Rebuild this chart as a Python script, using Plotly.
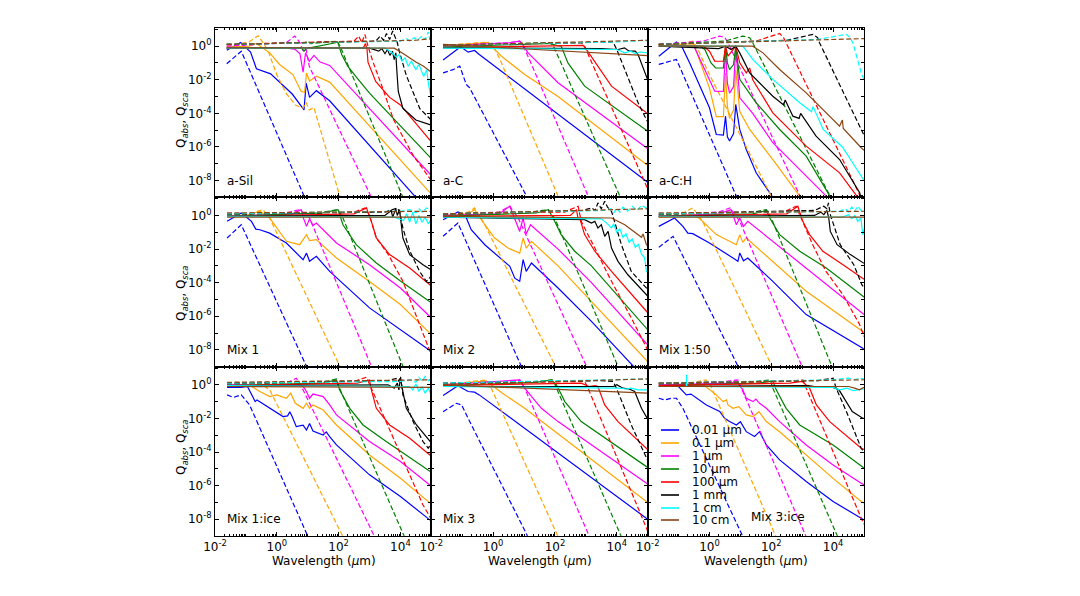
import plotly.graph_objects as go
from plotly.subplots import make_subplots

# ---------------- data (log10 wavelength [um], log10 Q) ----------------
SIZES = ["0.01 μm", "0.1 μm", "1 μm", "10 μm", "100 μm", "1 mm", "1 cm", "10 cm"]
COLORS = ["#0000ff", "#ffa500", "#ff00ff", "#008000", "#ff0000", "#000000", "#00ffff", "#8b4513"]
PANEL_NAMES = ["a-Sil", "a-C", "a-C:H", "Mix 1", "Mix 2", "Mix 1:50", "Mix 1:ice", "Mix 3", "Mix 3:ice"]
X_LABEL_EXP = [-2, 0, 2, 4]
Y_LABEL_EXP = [-8, -6, -4, -2, 0]

ASIL_ABS = [
    [[-1.62,-0.25],[-1.17,0.22],[-0.85,-0.35],[-0.66,-1.35],[-0.2,-1.65],[0.5,-2.85],[0.88,-3.8],[0.95,-2.2],[1.06,-3.05],[1.28,-2.65],[1.71,-3.25],[4.5,-9.0]],
    [[-1.62,-0.05],[-0.9,0.0],[-0.66,0.16],[-0.23,-0.4],[0.09,-1.09],[0.52,-1.69],[0.79,-2.7],[0.9,-2.75],[0.96,-1.6],[1.06,-2.08],[1.28,-1.79],[1.71,-2.14],[4.95,-8.7],[5.0,-8.8]],
    [[-1.62,-0.1],[0.3,-0.1],[0.6,-0.2],[0.75,-0.45],[0.85,-1.55],[0.93,-0.4],[1.05,-0.9],[1.2,-0.55],[1.4,-0.95],[1.71,-1.15],[5.0,-7.7]],
    [[-1.62,-0.12],[0.8,-0.1],[0.88,-0.3],[0.95,-0.15],[1.9,0.2],[1.97,0.25],[2.1,-0.5],[2.3,-1.2],[2.6,-1.9],[3.0,-2.8],[5.0,-6.7]],
    [[-1.62,-0.12],[2.8,-0.1],[2.87,0.15],[2.92,-0.2],[2.95,-0.95],[3.2,-2.1],[3.65,-3.05],[4.0,-3.5],[5.0,-5.7]],
    [[-1.62,-0.12],[3.0,-0.12],[3.3,-0.3],[3.4,-0.15],[3.5,-0.45],[3.58,-0.2],[3.66,-0.55],[3.74,-0.3],[3.8,-0.8],[3.85,-0.4],[3.88,-1.35],[3.93,-2.7],[4.08,-3.7],[4.5,-4.4],[5.0,-4.7]],
    [[-1.62,-0.12],[3.5,-0.12],[3.7,-0.35],[3.87,-0.65],[3.95,-0.5],[4.05,-0.9],[4.15,-0.7],[4.25,-1.2],[4.35,-0.9],[4.5,-1.4],[4.6,-1.1],[4.75,-1.8],[4.85,-1.4],[4.92,-2.4],[5.0,-3.1]],
    [[-1.62,-0.1],[3.8,-0.12],[4.1,-0.45],[4.5,-0.95],[4.75,-1.2],[4.85,-1.35],[5.0,-1.55]],
]
ASIL_SCA = [
    [[-1.62,-1.05],[-1.15,-0.3],[0.9,-9.0]],
    [[-1.62,0.0],[-0.9,0.25],[-0.6,0.62],[-0.3,-0.2],[0.0,-1.7],[0.3,-2.8],[0.6,-3.5],[0.85,-3.7],[0.95,-3.35],[1.05,-3.8],[1.2,-3.65],[1.35,-4.6],[2.05,-9.0]],
    [[-1.62,0.0],[0.3,0.2],[0.58,0.6],[0.75,0.2],[0.85,-0.3],[0.95,-0.2],[1.05,-1.2],[3.06,-9.0]],
    [[-1.62,0.1],[0.9,0.2],[1.0,0.3],[1.1,0.15],[1.95,0.3],[2.05,0.0],[4.08,-9.0]],
    [[-1.62,0.1],[2.5,0.3],[2.65,0.6],[2.75,0.2],[2.85,0.7],[2.95,0.0],[3.12,-0.98],[3.44,-2.57],[3.77,-4.35],[4.41,-6.5],[5.0,-8.0]],
    [[-1.62,0.1],[3.2,0.3],[3.35,0.6],[3.45,0.35],[3.55,0.75],[3.65,0.4],[3.75,0.9],[3.85,0.5],[3.9,0.2],[3.97,-0.36],[4.19,-1.74],[4.41,-2.74],[4.63,-3.73],[5.0,-4.4]],
    [[-1.62,0.1],[4.0,0.3],[4.2,0.45],[4.3,0.3],[4.45,0.5],[4.55,0.35],[4.7,0.6],[4.8,0.4],[4.9,0.85],[4.95,0.4],[5.0,0.7]],
    [[-1.62,0.1],[4.0,0.3],[4.5,0.35],[5.0,0.45]],
]

AC_ABS = [
    [[-1.62,-0.83],[-1.05,-0.04],[-0.81,-0.36],[-0.6,-0.26],[-0.45,-0.5],[4.96,-8.04],[5.0,-8.1]],
    [[-1.62,0.0],[-0.5,0.15],[-0.16,0.22],[0.0,-0.1],[0.27,-0.6],[1.02,-1.69],[2.1,-3.0],[4.96,-7.04],[5.0,-7.1]],
    [[-1.62,0.0],[0.5,0.2],[0.86,0.3],[0.95,0.1],[1.13,-0.4],[2.1,-2.18],[4.96,-6.05],[5.0,-6.1]],
    [[-1.62,-0.05],[1.0,0.1],[1.83,0.16],[2.05,0.05],[2.2,0.0],[2.42,-1.0],[2.96,-2.38],[4.96,-5.0],[5.0,-5.05]],
    [[-1.62,-0.08],[2.5,0.0],[2.91,0.04],[3.0,-0.15],[3.39,-1.19],[3.83,-2.38],[4.96,-3.97],[5.0,-4.0]],
    [[-1.62,-0.1],[3.5,-0.15],[4.04,-0.2],[4.25,-0.1],[4.4,-0.3],[4.6,-0.3],[4.69,-0.5],[4.96,-1.88],[5.0,-2.0]],
    [[-1.62,-0.12],[4.0,-0.2],[4.26,-0.4],[4.45,-0.3],[4.6,-0.45],[4.75,-0.35],[5.0,-0.4]],
    [[-1.62,0.1],[5.0,-0.56]],
]
AC_SCA = [
    [[-1.62,-1.59],[-1.3,-1.4],[-1.08,-1.19],[-0.87,-2.28],[-0.76,-2.48],[1.07,-8.93],[1.1,-9.0]],
    [[-1.62,0.04],[-0.5,0.2],[-0.2,0.24],[0.0,0.0],[0.2,-0.7],[2.1,-8.93],[2.12,-9.0]],
    [[-1.62,0.04],[0.5,0.2],[0.86,0.3],[0.97,0.0],[1.15,-0.7],[3.07,-8.93],[3.09,-9.0]],
    [[-1.62,0.04],[1.5,0.2],[1.83,0.2],[1.94,0.04],[2.1,-0.6],[4.1,-8.93],[4.12,-9.0]],
    [[-1.62,0.04],[2.5,0.15],[2.85,0.2],[2.96,0.0],[3.1,-0.6],[4.96,-8.33],[5.0,-8.5]],
    [[-1.62,0.05],[3.5,0.2],[3.88,0.25],[4.0,-0.2],[4.26,-1.39],[4.69,-3.37],[4.96,-4.37],[5.0,-4.5]],
    [[-1.62,0.05],[4.0,0.25],[4.96,0.35],[5.0,0.25]],
    [[-1.62,0.05],[5.0,0.35]],
]

ACH_ABS = [
    [[-1.64,-0.6],[-1.07,0.24],[-0.9,0.0],[-0.64,-1.0],[0.0,-3.67],[0.22,-5.26],[0.45,-5.3],[0.52,-4.17],[0.58,-5.4],[0.65,-5.65],[0.78,-5.2],[0.85,-3.47],[0.98,-4.96],[1.19,-6.15],[1.51,-7.54],[2.0,-8.93],[2.05,-9.0]],
    [[-1.64,0.0],[-0.6,0.15],[-0.5,0.1],[-0.37,-0.6],[0.0,-2.5],[0.22,-4.2],[0.45,-4.2],[0.52,-1.6],[0.58,-3.6],[0.65,-4.3],[0.78,-3.8],[0.85,-1.4],[0.98,-3.9],[1.3,-4.96],[2.05,-6.75],[2.92,-8.93],[2.96,-9.0]],
    [[-1.64,0.0],[-0.6,0.0],[-0.48,-0.1],[-0.1,-1.59],[0.17,-2.68],[0.45,-2.7],[0.52,-0.2],[0.58,-2.2],[0.65,-2.8],[0.78,-2.4],[0.85,-0.1],[0.98,-3.08],[1.4,-4.0],[2.05,-5.75],[3.78,-8.93],[3.82,-9.0]],
    [[-1.64,0.0],[-0.3,0.0],[-0.15,-0.2],[0.05,-1.0],[0.2,-1.3],[0.45,-1.3],[0.52,0.0],[0.58,-1.0],[0.65,-1.4],[0.78,-1.1],[0.85,0.0],[0.98,-1.98],[1.51,-3.37],[2.27,-4.96],[3.13,-6.55],[3.89,-8.93],[3.92,-9.0]],
    [[-1.64,0.0],[-0.2,0.0],[0.0,-0.3],[0.17,-0.89],[0.45,-0.9],[0.52,0.0],[0.6,-0.6],[0.85,0.0],[0.98,-0.99],[1.19,-1.59],[1.3,-1.3],[1.4,-2.0],[2.05,-3.97],[3.13,-5.95],[4.21,-7.54],[4.75,-8.93],[4.8,-9.0]],
    [[-1.64,0.0],[0.0,-0.1],[0.3,-0.15],[0.52,0.0],[0.7,-0.2],[0.85,0.0],[0.98,-0.4],[1.3,-1.59],[2.05,-2.98],[2.4,-3.5],[2.45,-3.2],[2.7,-4.17],[2.9,-4.3],[2.95,-4.0],[3.45,-5.36],[4.21,-6.75],[4.86,-8.73],[4.9,-9.0]],
    [[-1.64,0.0],[1.08,0.0],[1.4,-0.79],[2.05,-1.98],[2.92,-3.37],[3.3,-3.9],[3.35,-3.6],[3.68,-4.96],[4.3,-6.0],[4.91,-7.74],[5.0,-8.0]],
    [[-1.64,0.0],[1.4,0.0],[1.73,-0.4],[2.27,-1.39],[3.13,-2.78],[4.21,-4.76],[4.3,-4.4],[4.33,-4.9],[4.91,-6.05],[5.0,-6.2]],
]
ACH_SCA = [
    [[-1.64,-1.09],[-1.07,-0.79],[0.87,-8.93],[0.9,-9.1]],
    [[-1.64,0.1],[-0.8,0.2],[-0.54,0.3],[-0.37,-0.2],[0.0,-1.7],[2.0,-8.93],[2.02,-9.0]],
    [[-1.64,0.1],[-0.2,0.3],[0.33,0.6],[0.5,0.5],[0.6,0.2],[2.92,-8.93],[2.95,-9.0]],
    [[-1.64,0.1],[0.5,0.3],[1.08,0.6],[1.3,0.5],[1.4,0.2],[3.89,-8.93],[3.92,-9.0]],
    [[-1.64,0.1],[1.5,0.3],[2.27,0.75],[2.4,0.5],[2.48,0.2],[4.86,-8.93],[4.9,-9.0]],
    [[-1.64,0.1],[2.5,0.35],[3.35,0.7],[3.5,0.5],[3.56,0.2],[4.91,-4.96],[5.0,-5.3]],
    [[-1.64,0.1],[3.5,0.4],[4.43,0.7],[4.55,0.5],[4.64,0.2],[4.91,-1.59],[5.0,-2.0]],
    [[-1.64,0.1],[5.0,0.45]],
]

MIX1_ABS = [
    [[-1.61,-0.35],[-1.15,0.15],[-0.82,-0.35],[-0.68,-0.81],[-0.55,-0.85],[-0.23,-1.05],[0.31,-1.64],[0.85,-2.63],[0.96,-2.24],[1.06,-2.73],[1.28,-2.43],[1.71,-3.33],[3.0,-5.5],[4.95,-8.0],[5.0,-8.1]],
    [[-1.61,-0.05],[-0.9,0.05],[-0.55,0.25],[-0.23,-0.15],[0.31,-1.54],[0.74,-1.74],[0.96,-1.14],[1.06,-1.5],[1.28,-1.44],[1.93,-2.53],[3.0,-3.93],[4.0,-5.3],[4.95,-7.0],[5.0,-7.1]],
    [[-1.61,-0.05],[0.5,0.1],[0.79,0.35],[0.85,-0.1],[0.96,-0.65],[1.06,-0.2],[1.17,-0.6],[1.28,-0.45],[1.93,-1.64],[3.0,-2.93],[4.0,-4.32],[4.95,-6.0],[5.0,-6.1]],
    [[-1.61,-0.05],[1.5,0.15],[1.98,0.35],[2.14,-0.55],[2.57,-1.74],[3.22,-2.83],[4.0,-3.9],[4.95,-5.1],[5.0,-5.2]],
    [[-1.61,-0.05],[2.5,0.1],[2.9,0.45],[3.06,-0.35],[3.22,-1.34],[3.65,-2.33],[4.3,-3.13],[4.95,-4.12],[5.0,-4.2]],
    [[-1.61,-0.05],[3.5,0.0],[3.7,0.3],[3.75,-0.1],[3.85,0.4],[3.9,0.0],[3.97,0.35],[4.03,-0.55],[4.08,-1.34],[4.3,-2.33],[4.73,-2.93],[5.0,-3.25]],
    [[-1.61,-0.05],[3.8,-0.1],[4.1,-0.3],[4.2,0.1],[4.3,-0.4],[4.4,0.2],[4.5,-0.5],[4.6,0.0],[4.7,-0.4],[4.8,-0.1],[4.9,-0.5],[5.0,-0.2]],
    [[-1.61,-0.1],[5.0,-0.1]],
]
MIX1_SCA = [
    [[-1.61,-1.34],[-1.15,-0.55],[0.96,-8.98],[1.0,-9.1]],
    [[-1.61,0.0],[-0.8,0.15],[-0.45,0.35],[-0.23,-0.15],[2.04,-8.98],[2.07,-9.1]],
    [[-1.61,0.05],[0.3,0.15],[0.74,0.35],[0.9,0.1],[1.06,-0.15],[3.06,-8.98],[3.09,-9.1]],
    [[-1.61,0.05],[1.5,0.2],[1.98,0.35],[2.14,-0.15],[4.08,-8.98],[4.11,-9.1]],
    [[-1.61,0.1],[2.5,0.2],[2.85,0.45],[3.0,0.0],[3.22,-1.34],[3.6,-2.3],[4.08,-3.92],[4.73,-7.1],[4.95,-8.1],[5.0,-8.3]],
    [[-1.61,0.1],[3.5,0.2],[3.9,0.45],[3.98,0.2],[4.08,-0.75],[4.3,-2.1],[4.62,-3.33],[4.84,-3.93],[5.0,-3.6]],
    [[-1.61,0.1],[4.0,0.25],[4.3,0.35],[4.5,0.15],[4.6,0.4],[4.7,0.2],[4.85,0.45],[5.0,0.3]],
    [[-1.61,0.15],[5.0,0.25]],
]

MIX2_ABS = [
    [[-1.62,-0.25],[-1.14,0.21],[-0.9,0.0],[-0.71,-0.85],[-0.27,-1.74],[0.27,-2.63],[0.54,-3.03],[0.7,-3.73],[0.86,-3.92],[0.97,-2.63],[1.07,-3.33],[1.24,-2.83],[2.1,-4.32],[3.18,-6.3],[4.47,-8.88],[4.55,-9.0]],
    [[-1.62,0.0],[-0.8,0.1],[-0.6,0.35],[-0.27,-0.55],[0.05,-1.34],[0.48,-1.94],[0.86,-2.24],[0.97,-1.34],[1.07,-1.94],[1.24,-1.54],[2.1,-3.0],[3.18,-5.1],[4.96,-8.6],[5.0,-8.7]],
    [[-1.62,0.0],[0.2,0.1],[0.54,0.55],[0.7,-0.15],[0.86,-0.95],[0.97,-0.15],[1.07,-1.1],[1.21,-0.55],[2.1,-2.0],[3.18,-4.0],[4.96,-7.6],[5.0,-7.7]],
    [[-1.62,-0.05],[1.4,0.15],[1.78,0.35],[1.94,-0.15],[2.2,-1.14],[2.64,-2.13],[3.18,-3.0],[4.96,-6.7],[5.0,-6.8]],
    [[-1.62,-0.05],[2.5,0.0],[2.7,0.35],[2.75,-0.25],[2.8,-0.15],[2.96,-1.14],[3.29,-2.13],[3.83,-3.33],[4.96,-5.7],[5.0,-5.8]],
    [[-1.62,-0.1],[2.96,-0.25],[3.18,-0.45],[3.29,-0.35],[3.39,-0.75],[3.5,-0.55],[3.61,-1.24],[3.72,-0.95],[3.83,-1.94],[4.04,-2.73],[4.36,-3.53],[4.96,-4.71],[5.0,-4.8]],
    [[-1.62,-0.1],[3.5,-0.2],[3.7,-0.5],[3.83,-0.75],[3.9,-0.5],[4.0,-1.0],[4.1,-0.8],[4.2,-1.3],[4.3,-1.1],[4.4,-1.6],[4.5,-1.4],[4.6,-1.9],[4.7,-1.7],[4.8,-2.3],[4.9,-2.5],[4.96,-3.33],[5.0,-3.4]],
    [[-1.62,-0.05],[3.83,-0.15],[4.26,-0.55],[4.69,-1.14],[4.8,-1.3],[4.85,-1.1],[4.96,-1.74],[5.0,-1.8]],
]
MIX2_SCA = [
    [[-1.62,-1.24],[-1.14,-0.45],[0.91,-8.98],[0.95,-9.1]],
    [[-1.62,0.0],[-0.8,0.2],[-0.6,0.45],[-0.27,-0.55],[1.99,-8.88],[2.02,-9.0]],
    [[-1.62,0.05],[0.2,0.2],[0.54,0.55],[0.81,-0.15],[3.02,-8.98],[3.05,-9.1]],
    [[-1.62,0.05],[1.2,0.2],[1.78,0.35],[1.99,-0.15],[4.04,-8.98],[4.07,-9.1]],
    [[-1.62,0.1],[2.3,0.2],[2.75,0.55],[2.85,-0.35],[3.29,-1.94],[3.83,-3.92],[4.47,-6.1],[4.96,-7.9],[5.0,-8.0]],
    [[-1.62,0.1],[2.9,0.3],[3.18,0.45],[3.3,0.3],[3.39,0.75],[3.5,0.4],[3.61,0.85],[3.7,0.5],[3.83,0.25],[4.15,-1.74],[4.47,-3.33],[4.96,-4.3],[5.0,-4.4]],
    [[-1.62,0.1],[3.6,0.3],[3.8,0.4],[3.9,0.15],[4.0,0.45],[4.1,0.2],[4.2,0.5],[4.35,0.25],[4.5,0.55],[4.65,0.3],[4.8,0.6],[5.0,0.4]],
    [[-1.62,0.1],[4.5,0.35],[5.0,0.4]],
]

MIX150_ABS = [
    [[-1.64,-0.65],[-1.13,-0.15],[-0.86,-0.65],[-0.7,-1.05],[-0.54,-1.08],[0.0,-1.64],[0.76,-2.53],[0.92,-2.73],[0.98,-2.23],[1.1,-2.7],[1.24,-2.53],[2.05,-3.92],[3.13,-5.9],[4.96,-7.9],[5.0,-8.0]],
    [[-1.64,-0.1],[-0.8,0.0],[-0.54,0.15],[-0.22,-0.35],[0.22,-1.14],[0.87,-1.74],[0.98,-1.14],[1.08,-1.6],[1.19,-1.34],[2.05,-2.73],[3.13,-4.51],[4.96,-6.9],[5.0,-7.0]],
    [[-1.64,-0.05],[0.3,0.1],[0.7,0.35],[0.87,-0.55],[0.98,-0.15],[1.1,-0.65],[1.24,-0.35],[2.05,-1.54],[3.13,-3.13],[4.96,-5.8],[5.0,-5.9]],
    [[-1.64,-0.05],[1.4,0.1],[1.84,0.3],[1.95,-0.15],[2.27,-1.14],[2.92,-2.13],[3.78,-3.13],[4.96,-4.8],[5.0,-4.85]],
    [[-1.64,-0.05],[2.5,0.1],[2.86,0.55],[2.94,0.1],[3.02,-0.35],[3.24,-1.14],[3.67,-2.13],[4.32,-2.93],[5.0,-3.8]],
    [[-1.64,-0.05],[3.4,0.0],[3.6,0.2],[3.7,0.05],[3.8,0.3],[3.86,-0.15],[3.91,-0.95],[4.13,-1.74],[4.56,-2.33],[5.0,-2.85]],
    [[-1.64,-0.05],[4.3,-0.1],[4.5,0.05],[4.6,-0.2],[4.7,0.0],[4.8,-0.35],[4.9,-0.15],[4.96,-1.14],[5.0,-0.8]],
    [[-1.64,-0.1],[5.0,-0.1]],
]
MIX150_SCA = [
    [[-1.64,-1.9],[-1.18,-1.24],[0.87,-8.78],[0.95,-9.1]],
    [[-1.64,0.0],[-0.8,0.2],[-0.54,0.45],[-0.22,-0.35],[2.0,-8.88],[2.03,-9.0]],
    [[-1.64,0.05],[0.3,0.2],[0.66,0.45],[0.98,-0.35],[2.97,-8.88],[3.0,-9.0]],
    [[-1.64,0.05],[1.4,0.2],[1.84,0.35],[2.0,-0.15],[3.94,-8.88],[3.97,-9.0]],
    [[-1.64,0.1],[2.4,0.2],[2.8,0.55],[3.02,-0.35],[3.34,-1.74],[3.77,-3.33],[4.32,-4.72],[4.86,-6.5],[5.0,-7.2]],
    [[-1.64,0.1],[3.4,0.3],[3.7,0.55],[3.8,0.4],[3.85,0.75],[3.91,0.05],[4.23,-1.74],[4.67,-2.93],[4.93,-4.12],[5.0,-4.3]],
    [[-1.64,0.1],[4.2,0.25],[4.4,0.4],[4.5,0.2],[4.6,0.5],[4.7,0.25],[4.8,0.55],[4.9,0.3],[5.0,0.45]],
    [[-1.64,0.15],[5.0,0.25]],
]

MIX1ICE_ABS = [
    [[-1.61,-0.16],[-1.15,-0.16],[-0.95,-0.1],[-0.77,-0.8],[-0.7,-1.0],[-0.64,-0.9],[-0.23,-1.4],[0.2,-1.89],[0.35,-1.85],[0.42,-1.6],[0.5,-1.9],[0.63,-2.49],[0.85,-2.4],[0.96,-2.69],[1.06,-2.3],[1.17,-2.75],[1.5,-2.99],[1.6,-2.8],[1.71,-3.08],[1.93,-3.58],[3.0,-5.36],[4.0,-6.65],[4.95,-8.04],[5.0,-8.1]],
    [[-1.61,0.0],[-0.9,0.0],[-0.55,-0.4],[-0.23,-0.7],[0.0,-0.6],[0.31,-0.8],[0.45,-0.5],[0.6,-1.1],[0.85,-1.4],[0.96,-1.1],[1.06,-1.4],[1.17,-1.2],[1.28,-1.3],[1.5,-1.5],[1.93,-2.39],[3.0,-4.18],[4.0,-5.56],[4.95,-7.05],[5.0,-7.1]],
    [[-1.61,0.0],[0.7,0.0],[0.85,-0.1],[0.96,-0.4],[1.06,-0.8],[1.17,-0.55],[1.28,-0.6],[1.5,-0.7],[1.71,-1.2],[1.93,-1.79],[3.0,-3.38],[4.0,-4.57],[4.95,-5.96],[5.0,-6.0]],
    [[-1.61,-0.05],[1.5,0.1],[1.93,0.29],[2.03,-0.3],[2.36,-1.4],[2.79,-2.39],[3.54,-3.38],[4.95,-5.17],[5.0,-5.2]],
    [[-1.61,-0.05],[2.6,0.1],[3.0,0.29],[3.06,-0.3],[3.22,-1.4],[3.65,-2.39],[4.3,-3.18],[4.95,-4.17],[5.0,-4.25]],
    [[-1.61,-0.05],[3.6,0.0],[3.8,-0.2],[3.9,0.1],[3.95,-0.3],[4.0,0.4],[4.08,-0.4],[4.19,-1.4],[4.52,-2.39],[4.95,-3.38],[5.0,-3.45]],
    [[-1.61,-0.05],[4.3,-0.1],[4.4,-0.3],[4.5,0.05],[4.6,-0.4],[4.7,-0.1],[4.8,-0.5],[4.9,-0.2],[5.0,-0.6]],
    [[-1.61,-0.1],[5.0,-0.15]],
]
MIX1ICE_SCA = [
    [[-1.61,-0.6],[-1.4,-0.75],[-1.15,-0.6],[-0.88,-1.2],[0.96,-8.84],[1.0,-9.0]],
    [[-1.61,0.05],[-0.5,0.05],[-0.23,-0.3],[2.09,-8.84],[2.13,-9.0]],
    [[-1.61,0.05],[0.3,0.1],[0.63,0.39],[0.85,-0.3],[3.11,-8.84],[3.15,-9.0]],
    [[-1.61,0.05],[1.5,0.15],[1.93,0.35],[2.03,-0.2],[4.08,-8.84],[4.12,-9.0]],
    [[-1.61,0.1],[2.5,0.2],[2.9,0.45],[3.11,-0.4],[3.44,-1.79],[3.87,-3.58],[4.3,-5.36],[4.73,-7.15],[4.95,-7.85],[5.0,-8.0]],
    [[-1.61,0.1],[3.6,0.25],[3.9,0.4],[3.95,0.2],[4.0,0.5],[4.08,-0.6],[4.41,-2.19],[4.73,-3.38],[4.9,-3.77],[5.0,-3.5]],
    [[-1.61,0.1],[4.0,0.2],[4.3,0.3],[4.5,0.15],[4.6,0.45],[4.7,0.2],[4.8,0.5],[4.9,0.25],[5.0,0.35]],
    [[-1.61,0.15],[5.0,0.3]],
]

MIX3_ABS = [
    [[-1.62,-0.64],[-1.14,-0.05],[-0.81,-0.4],[-0.6,-0.44],[-0.45,-0.6],[4.96,-7.94],[5.0,-8.0]],
    [[-1.62,0.0],[-0.6,0.15],[-0.22,0.23],[-0.06,0.0],[0.3,-0.5],[1.02,-1.4],[4.96,-6.95],[5.0,-7.0]],
    [[-1.62,0.0],[0.4,0.2],[0.86,0.29],[1.02,-0.2],[1.56,-1.4],[2.1,-2.19],[4.96,-5.86],[5.0,-5.9]],
    [[-1.62,-0.05],[1.4,0.15],[1.88,0.29],[2.05,0.0],[2.32,-1.0],[2.85,-2.19],[4.96,-4.87],[5.0,-4.9]],
    [[-1.62,-0.05],[2.5,0.05],[2.85,0.1],[3.1,-0.1],[3.3,-0.05],[3.39,-0.1],[3.61,-1.2],[4.04,-2.19],[4.96,-3.78],[5.0,-3.85]],
    [[-1.62,-0.1],[3.9,-0.1],[4.0,0.0],[4.2,-0.2],[4.4,-0.25],[4.58,-0.4],[4.8,-1.4],[4.96,-1.99],[5.0,-2.05]],
    [[-1.62,-0.1],[4.1,-0.2],[4.3,-0.25],[4.45,-0.2],[4.7,-0.3],[5.0,-0.3]],
    [[-1.62,0.0],[5.0,-0.5]],
]
MIX3_SCA = [
    [[-1.62,-1.6],[-1.19,-1.1],[-1.02,-1.2],[-0.81,-2.0],[1.07,-8.84],[1.11,-9.0]],
    [[-1.62,0.0],[-0.6,0.2],[-0.22,0.29],[-0.06,-0.2],[2.05,-8.84],[2.09,-9.0]],
    [[-1.62,0.05],[0.4,0.2],[0.86,0.29],[1.02,-0.2],[3.07,-8.84],[3.11,-9.0]],
    [[-1.62,0.05],[1.4,0.2],[1.94,0.29],[2.05,-0.2],[4.1,-8.84],[4.14,-9.0]],
    [[-1.62,0.1],[2.5,0.2],[2.96,0.2],[3.07,-0.2],[4.96,-8.54],[5.0,-8.7]],
    [[-1.62,0.1],[3.5,0.25],[3.88,0.2],[3.99,-0.2],[4.47,-2.39],[4.96,-4.37],[5.0,-4.5]],
    [[-1.62,0.1],[4.0,0.3],[5.0,0.35]],
    [[-1.62,0.0],[5.0,0.35]],
]

MIX3ICE_ABS = [
    [[-1.64,-0.1],[-1.4,-0.1],[-1.07,0.03],[-0.86,-0.4],[-0.75,-0.6],[-0.6,-0.55],[-0.1,-1.2],[0.33,-1.59],[0.49,-1.99],[0.65,-2.19],[0.87,-2.39],[1.0,-2.2],[1.19,-2.79],[1.46,-3.08],[1.62,-2.79],[1.84,-3.58],[2.27,-4.47],[3.13,-5.76],[4.0,-6.95],[4.91,-7.94],[5.0,-8.05]],
    [[-1.64,0.0],[-0.2,0.0],[0.22,-0.6],[0.44,-1.0],[0.55,-0.9],[0.6,-1.2],[0.76,-1.4],[0.95,-1.3],[1.19,-1.79],[1.41,-1.89],[1.6,-1.6],[1.84,-2.19],[2.27,-2.79],[3.13,-4.18],[4.0,-5.57],[4.91,-6.95],[5.0,-7.05]],
    [[-1.64,0.0],[0.7,0.1],[0.87,0.23],[1.08,-0.3],[1.19,-0.8],[1.41,-1.0],[1.5,-0.85],[1.62,-1.1],[1.84,-1.4],[2.27,-2.19],[3.13,-3.58],[4.0,-4.77],[4.91,-5.86],[5.0,-5.95]],
    [[-1.64,-0.05],[1.6,0.1],[2.05,0.23],[2.16,-0.3],[2.48,-1.4],[2.92,-2.39],[4.0,-3.58],[4.91,-4.87],[5.0,-4.95]],
    [[-1.64,-0.05],[2.6,0.1],[3.0,0.2],[3.24,-0.2],[3.46,-1.2],[3.89,-2.19],[4.91,-3.78],[5.0,-3.85]],
    [[-1.64,-0.1],[3.2,-0.05],[3.4,-0.1],[4.0,-0.15],[4.19,-0.3],[4.41,-1.0],[4.62,-1.59],[4.96,-1.99],[5.0,-2.0]],
    [[-1.64,-0.1],[-0.75,-0.1],[-0.74,0.6],[-0.73,-0.1],[4.0,-0.15],[4.21,-0.3],[4.45,-0.2],[4.65,-0.35],[5.0,-0.25]],
    [[-1.64,-0.1],[4.5,-0.1],[4.7,-0.2],[4.85,-0.3],[5.0,-0.15]],
]
MIX3ICE_SCA = [
    [[-1.64,-0.8],[-1.45,-0.9],[-1.24,-0.8],[-1.07,-0.8],[-0.86,-1.4],[1.03,-8.84],[1.07,-9.0]],
    [[-1.64,0.05],[-0.5,0.15],[-0.11,0.29],[0.05,-0.1],[2.1,-8.84],[2.14,-9.0]],
    [[-1.64,0.05],[0.5,0.2],[0.92,0.29],[1.03,-0.2],[3.08,-8.84],[3.12,-9.0]],
    [[-1.64,0.05],[1.5,0.2],[1.97,0.29],[2.05,-0.2],[4.1,-8.84],[4.14,-9.0]],
    [[-1.64,0.1],[2.5,0.2],[3.02,0.29],[3.13,-0.2],[4.91,-7.94],[5.0,-8.3]],
    [[-1.64,0.1],[3.5,0.25],[4.0,0.39],[4.1,-0.2],[4.43,-1.59],[4.91,-3.78],[5.0,-4.0]],
    [[-1.64,0.1],[4.0,0.3],[4.5,0.4],[4.7,0.3],[4.85,0.4],[5.0,0.35]],
    [[-1.64,0.1],[5.0,0.3]],
]

ABS_DATA = [ASIL_ABS, AC_ABS, ACH_ABS, MIX1_ABS, MIX2_ABS, MIX150_ABS, MIX1ICE_ABS, MIX3_ABS, MIX3ICE_ABS]
SCA_DATA = [ASIL_SCA, AC_SCA, ACH_SCA, MIX1_SCA, MIX2_SCA, MIX150_SCA, MIX1ICE_SCA, MIX3_SCA, MIX3ICE_SCA]

# ---------------- figure ----------------
W, H = 1080, 596
OFF = 8  # page body margin of the html page
# target plot area on the page: x 215..864, y 28..536
ML, MT = 215 - OFF, 28 - OFF
MR, MB = W - (864 - OFF), H - (536 - OFF)
PW, PH = W - ML - MR, H - MT - MB
FONT = "DejaVu Sans"


def px(x):
    return (x - OFF - ML) / PW


def py(y):
    return (H - MB - (y - OFF)) / PH


fig = make_subplots(rows=3, cols=3, horizontal_spacing=0, vertical_spacing=0)

for p in range(9):
    r, c = p // 3 + 1, p % 3 + 1
    for k in range(8):
        for curves, dash in ((ABS_DATA[p], "solid"), (SCA_DATA[p], "5px,2.5px")):
            pts = curves[k]
            fig.add_trace(
                go.Scatter(
                    x=[10 ** a for a, b in pts],
                    y=[10 ** b for a, b in pts],
                    mode="lines",
                    line=dict(color=COLORS[k], width=1.2, dash=dash),
                    showlegend=False,
                    hoverinfo="skip",
                ),
                row=r, col=c,
            )

xvals = [10.0 ** e for e in X_LABEL_EXP]
xtext = ["10<sup>%d</sup>" % e for e in X_LABEL_EXP]
xminor = [m * 10.0 ** e for e in range(-2, 5) for m in range(2, 10)] + [0.1, 10.0, 1000.0]
yvals = [10.0 ** e for e in Y_LABEL_EXP]
ytext = ["10<sup>%d</sup>" % e for e in Y_LABEL_EXP]
yminor = [10.0 ** e for e in (-9, -7, -5, -3, -1, 1)]

for p in range(9):
    r, c = p // 3 + 1, p % 3 + 1
    fig.update_xaxes(
        type="log", range=[-2, 5], tickmode="array", tickvals=xvals, ticktext=xtext,
        ticks="inside", ticklen=4, tickwidth=1, tickcolor="black",
        showline=True, mirror="ticks", linecolor="black", linewidth=1,
        showgrid=False, zeroline=False, showticklabels=(r == 3),
        tickfont=dict(family=FONT, size=12, color="black"),
        minor=dict(tickmode="array", tickvals=xminor, ticks="inside", ticklen=2,
                   tickcolor="black", showgrid=False),
        row=r, col=c,
    )
    fig.update_yaxes(
        type="log", range=[-9, 1.08], tickmode="array", tickvals=yvals, ticktext=ytext,
        ticks="inside", ticklen=4, tickwidth=1, tickcolor="black",
        showline=True, mirror="ticks", linecolor="black", linewidth=1,
        showgrid=False, zeroline=False, showticklabels=(c == 1),
        tickfont=dict(family=FONT, size=12, color="black"),
        minor=dict(tickmode="array", tickvals=yminor, ticks="inside", ticklen=3,
                   tickcolor="black", showgrid=False),
        row=r, col=c,
    )

annotations = []
for p, name in enumerate(PANEL_NAMES):
    n = "" if p == 0 else str(p + 1)
    if name == "Mix 3:ice":
        annotations.append(dict(text=name, xref="x%s domain" % n, yref="y%s" % n,
                                x=0.47, y=-7.85, xanchor="left", yanchor="middle",
                                showarrow=False, font=dict(family=FONT, size=12, color="black")))
    else:
        annotations.append(dict(text=name, xref="x%s domain" % n, yref="y%s" % n,
                                x=0.045, y=-8.0, xanchor="left", yanchor="middle",
                                showarrow=False, font=dict(family=FONT, size=12, color="black")))

for yc in (121, 294, 448):
    annotations.append(dict(text="Q<sub><i>abs</i></sub>, Q<sub><i>sca</i></sub>",
                            xref="paper", yref="paper", x=px(182), y=py(yc),
                            textangle=-90, showarrow=False, xanchor="center", yanchor="middle",
                            font=dict(family=FONT, size=12, color="black")))

for xc in (323.5, 540, 756):
    annotations.append(dict(text="Wavelength (<i>μ</i>m)", xref="paper", yref="paper",
                            x=px(xc), y=py(561), showarrow=False, xanchor="center",
                            yanchor="middle", font=dict(family=FONT, size=12, color="black")))

# legend (inside the Mix 3:ice panel)
shapes = []
leg_y = [430, 443, 456, 469, 482, 495, 508, 520]
for k, lab in enumerate(SIZES):
    shapes.append(dict(type="line", xref="paper", yref="paper",
                       x0=px(661), x1=px(679), y0=py(leg_y[k]), y1=py(leg_y[k]),
                       line=dict(color=COLORS[k], width=1.6)))
    annotations.append(dict(text=lab, xref="paper", yref="paper", x=px(690), y=py(leg_y[k]),
                            xanchor="left", yanchor="middle", showarrow=False,
                            font=dict(family=FONT, size=12, color="black")))

fig.update_layout(
    width=W, height=H,
    margin=dict(l=ML, r=MR, t=MT, b=MB),
    paper_bgcolor="white", plot_bgcolor="white",
    showlegend=False,
    annotations=annotations,
    shapes=shapes,
    font=dict(family=FONT, size=12, color="black"),
)

fig.write_html("out.html")
